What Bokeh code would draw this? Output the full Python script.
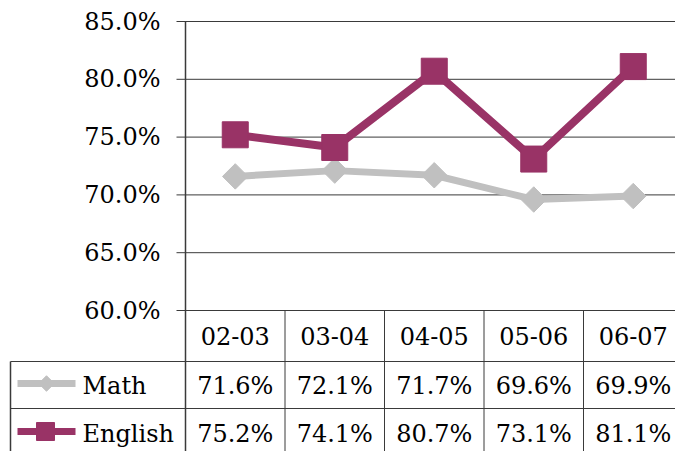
import math as _m
from bokeh.plotting import figure
from bokeh.models import Range1d
from bokeh.core.properties import value
from bokeh.embed import file_html
from bokeh.resources import INLINE

# ---- data ----
categories = ["02-03", "03-04", "04-05", "05-06", "06-07"]
math_vals = [71.6, 72.1, 71.7, 69.6, 69.9]
english_vals = [75.2, 74.1, 80.7, 73.1, 81.1]
y_ticks = [60, 65, 70, 75, 80, 85]
series_names = ["Math", "English"]

# ---- styling ----
FONT = value("DejaVu Serif")
FS = "24px"
MATH_COLOR = "#C0C0C0"
ENG_COLOR = "#993366"
LINE_COLOR = "#3a3a3a"

W, H = 675, 451
COL_PX = 99.5
AXIS_PX = 185.0
def X(px):
    return (px - AXIS_PX) / COL_PX

BASE_PX = 310          # pixel row of the lowest tick / table top
PX_PER_PCT = (BASE_PX - 21) / 25.0
Y_BOTTOM = 60 - (H - BASE_PX) / PX_PER_PCT
Y_TOP = 60 + BASE_PX / PX_PER_PCT
X_LEFT = X(0)
X_RIGHT = X(W)

p = figure(width=W, height=H, output_backend="svg", toolbar_location=None,
           x_range=Range1d(X_LEFT, X_RIGHT), y_range=Range1d(Y_BOTTOM, Y_TOP),
           x_axis_location=None, y_axis_location=None, min_border=0)
p.grid.visible = False
p.outline_line_color = None
p.background_fill_color = "white"
p.border_fill_color = "white"

# table range: pixels below the table's top edge (60% line)
p.extra_y_ranges = {"tbl": Range1d(start=H - BASE_PX, end=-BASE_PX)}
ROW_EDGES = [0, 51, 98, 145]

# ---- value axis: gridlines, ticks, labels ----
n_cols = len(categories)
p.segment(x0=[X(176)] * len(y_ticks), x1=[X_RIGHT] * len(y_ticks), y0=y_ticks, y1=y_ticks,
          line_color=LINE_COLOR, line_width=1)
p.text(x=[X(160)] * len(y_ticks), y=y_ticks, text=[f"{t:.1f}%" for t in y_ticks],
       text_font=FONT, text_font_size=FS, text_align="right", text_baseline="middle",
       text_color="black")
p.segment(x0=[0], x1=[0], y0=[max(y_ticks)], y1=[Y_BOTTOM], line_color=LINE_COLOR, line_width=1.5)

# ---- series ----
xc = [i + 0.5 for i in range(n_cols)]
p.line(xc, math_vals, line_color=MATH_COLOR, line_width=7)
p.scatter(xc, math_vals, marker="square", size=18, angle=_m.pi / 4,
          fill_color=MATH_COLOR, line_color=MATH_COLOR)
p.line(xc, english_vals, line_color=ENG_COLOR, line_width=8)
p.scatter(xc, english_vals, marker="square", size=26, fill_color=ENG_COLOR, line_color=ENG_COLOR)

# ---- data table ----
p.segment(x0=[X(10)] * 2, x1=[X_RIGHT] * 2, y0=ROW_EDGES[1:3], y1=ROW_EDGES[1:3],
          line_color=LINE_COLOR, line_width=1, y_range_name="tbl")
p.segment(x0=list(range(1, n_cols)), x1=list(range(1, n_cols)),
          y0=[0] * (n_cols - 1), y1=[ROW_EDGES[-1]] * (n_cols - 1),
          line_color=LINE_COLOR, line_width=1, y_range_name="tbl")
p.segment(x0=[X(10)], x1=[X(10)], y0=[ROW_EDGES[1]], y1=[ROW_EDGES[-1]],
          line_color=LINE_COLOR, line_width=1.5, y_range_name="tbl")

hdr_y = 25
row_y = [75, 123]
p.text(x=xc, y=[hdr_y] * n_cols, text=categories, text_font=FONT, text_font_size=FS,
       text_align="center", text_baseline="middle", text_color="black", y_range_name="tbl")
for vals, ry in zip([math_vals, english_vals], row_y):
    p.text(x=xc, y=[ry] * n_cols, text=[f"{v:.1f}%" for v in vals], text_font=FONT,
           text_font_size=FS, text_align="center", text_baseline="middle",
           text_color="black", y_range_name="tbl")

# legend keys inside the table
p.segment(x0=[X(17)], x1=[X(75)], y0=[row_y[0] - 2], y1=[row_y[0] - 2], line_color=MATH_COLOR,
          line_width=7, y_range_name="tbl")
p.scatter([X(46)], [row_y[0] - 2], marker="square", size=11, angle=_m.pi / 4,
          fill_color=MATH_COLOR, line_color=MATH_COLOR, y_range_name="tbl")
p.segment(x0=[X(17)], x1=[X(75)], y0=[row_y[1] - 2], y1=[row_y[1] - 2], line_color=ENG_COLOR,
          line_width=7, y_range_name="tbl")
p.scatter([X(45)], [row_y[1] - 2], marker="square", size=18,
          fill_color=ENG_COLOR, line_color=ENG_COLOR, y_range_name="tbl")
p.text(x=[X(82)] * 2, y=row_y, text=series_names, text_font=FONT, text_font_size=FS,
       text_align="left", text_baseline="middle", text_color="black", y_range_name="tbl")

open("out.html", "w").write(file_html(p, INLINE))
